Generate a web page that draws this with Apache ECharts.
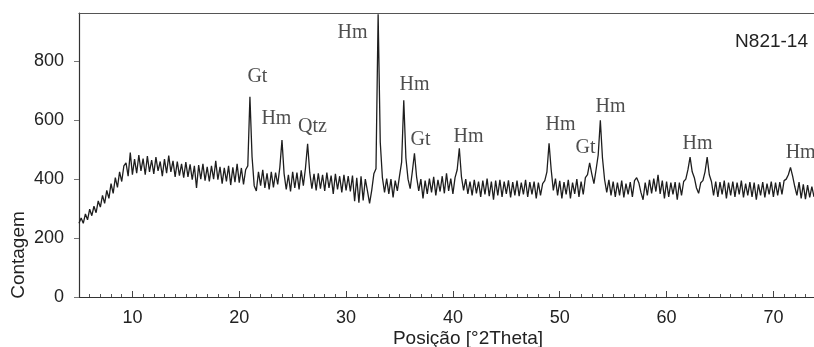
<!DOCTYPE html>
<html>
<head>
<meta charset="utf-8">
<script src="https://cdn.jsdelivr.net/npm/echarts@6/dist/echarts.min.js"></script>
<style>
html,body{margin:0;padding:0;background:#fff;}
#chart{width:814px;height:347px;}
</style>
</head>
<body>
<div id="chart"></div>
<script>
const scanStart = 5.0;
const scanStep = 0.2;
const counts = [
  250, 268, 250, 282, 262, 298, 276, 308, 286, 326,   // 5.0-6.8
  305, 345, 318, 362, 335, 385, 352, 405, 372, 425,   // 7.0-8.8
  392, 445, 455, 410, 490, 415, 468, 420, 482, 428,   // 9.0-10.8
  470, 415, 478, 425, 465, 418, 475, 428, 460, 410,   // 11.0-12.8
  468, 420, 480, 425, 462, 408, 460, 412, 452, 405,   // 13.0-14.8
  458, 408, 450, 398, 445, 370, 448, 400, 452, 395,   // 15.0-16.8
  442, 392, 445, 400, 462, 398, 442, 385, 438, 392,   // 17.0-18.8
  445, 380, 440, 390, 452, 388, 438, 382, 432, 445,   // 19.0-20.8
  680, 475, 378, 360, 425, 378, 432, 370, 420, 365,   // 21.0-22.8
  425, 372, 422, 382, 440, 533, 418, 365, 415, 358,   // 23.0-24.8
  425, 370, 422, 365, 430, 378, 438, 520, 422, 368,   // 25.0-26.8
  418, 362, 420, 368, 415, 360, 422, 370, 412, 350,   // 27.0-28.8
  418, 365, 410, 355, 415, 362, 410, 358, 412, 325,   // 29.0-30.8
  405, 320, 410, 328, 400, 360, 318, 362, 418, 435,   // 31.0-32.8
  960, 525, 405, 355, 402, 350, 400, 338, 395, 360,   // 33.0-34.8
  410, 458, 668, 472, 400, 368, 425, 488, 408, 360,   // 35.0-36.8
  400, 335, 395, 350, 402, 355, 408, 345, 398, 358,   // 37.0-38.8
  410, 352, 420, 360, 402, 350, 405, 432, 505, 408,   // 39.0-40.8
  362, 400, 350, 392, 345, 398, 352, 392, 340, 395,   // 41.0-42.8
  348, 402, 342, 392, 330, 395, 345, 398, 340, 392,   // 43.0-44.8
  350, 396, 338, 390, 345, 395, 342, 388, 348, 398,   // 45.0-46.8
  340, 390, 348, 392, 335, 388, 345, 385, 395, 425,   // 47.0-48.8
  522, 432, 362, 402, 345, 394, 335, 390, 348, 398,   // 49.0-50.8
  335, 388, 350, 400, 340, 392, 348, 405, 415, 455,   // 51.0-52.8
  418, 385, 432, 482, 600, 472, 398, 355, 398, 345,   // 53.0-54.8
  392, 340, 388, 345, 395, 338, 385, 348, 390, 340,   // 55.0-56.8
  395, 405, 388, 355, 330, 388, 345, 398, 352, 402,   // 57.0-58.8
  358, 415, 350, 395, 335, 392, 340, 388, 348, 390,   // 59.0-60.8
  330, 388, 345, 392, 400, 432, 475, 425, 405, 370,   // 61.0-62.8
  352, 388, 395, 425, 475, 415, 392, 345, 392, 340,   // 63.0-64.8
  390, 348, 395, 335, 388, 345, 392, 340, 388, 348,   // 65.0-66.8
  395, 338, 385, 345, 390, 340, 388, 330, 382, 345,   // 67.0-68.8
  390, 338, 385, 348, 392, 340, 388, 345, 390, 348,   // 69.0-70.8
  395, 400, 415, 440, 410, 375, 345, 390, 335, 382,   // 71.0-72.8
  332, 380, 338, 375, 340                             // 73.0-73.8
];

// Phase annotations (text and anchor in data units)
const peakLabels      = ['Gt', 'Hm', 'Qtz', 'Hm', 'Hm', 'Gt', 'Hm', 'Hm', 'Gt', 'Hm', 'Hm', 'Hm'];
const peakLabelAngles = [21.7, 23.48, 26.85, 30.6, 36.4, 36.97, 41.46, 50.07, 52.42, 54.76, 62.9, 72.55];
const peakLabelCounts = [747, 604, 577, 896, 720, 533, 543, 584, 506, 645, 519, 489];

const xTickValues = [10, 20, 30, 40, 50, 60, 70];
const yTickValues = [0, 200, 400, 600, 800];
const sampleName = 'N821-14';
const xTitle = 'Posição [°2Theta]';
const yTitle = 'Contagem';

const xMin = 5, xMax = 73.8, yMax = 964;

const lineData = counts.map((c, i) => [+(scanStart + i * scanStep).toFixed(1), c]);
const labelData = peakLabels.map((t, i) => [peakLabelAngles[i], peakLabelCounts[i], t]);
const minorTicks = [];
for (let d = 6; d <= 73; d++) if (d % 10 !== 0) minorTicks.push(d);

const sans = 'Liberation Sans, Arial, sans-serif';
const serif = 'Liberation Serif, Times New Roman, serif';
const axisColor = '#333';

const chart = echarts.init(document.getElementById('chart'), null, {renderer: 'canvas'});
chart.setOption({
  animation: false,
  backgroundColor: '#fff',
  grid: {left: 79, right: 0, top: 13, bottom: 50},
  xAxis: [
    {
      type: 'value', min: xMin, max: xMax, position: 'bottom',
      axisLine: {show: true, lineStyle: {color: axisColor, width: 1.2}},
      axisTick: {show: true, inside: true, length: 3, customValues: minorTicks, lineStyle: {color: '#555'}},
      axisLabel: {show: true, customValues: xTickValues, margin: 12, fontSize: 18, fontFamily: sans, color: '#222'},
      splitLine: {show: false}
    },
    {
      type: 'value', min: xMin, max: xMax, position: 'bottom',
      axisLine: {show: false},
      axisTick: {show: true, inside: true, length: 6, customValues: xTickValues, lineStyle: {color: '#444'}},
      axisLabel: {show: false},
      splitLine: {show: false}
    },
    {
      type: 'value', min: xMin, max: xMax, position: 'top',
      axisLine: {show: true, lineStyle: {color: '#555', width: 1.2}},
      axisTick: {show: false}, axisLabel: {show: false}, splitLine: {show: false}
    }
  ],
  yAxis: {
    type: 'value', min: 0, max: yMax,
    axisLine: {show: true, lineStyle: {color: axisColor, width: 1.2}},
    axisTick: {show: true, inside: false, length: 5, customValues: yTickValues, lineStyle: {color: '#777'}},
    axisLabel: {show: true, customValues: yTickValues, margin: 15, fontSize: 18, fontFamily: sans, color: '#222', padding: [0, 0, 8, 0]},
    splitLine: {show: false}
  },
  title: {
    text: sampleName, right: 1, top: 27,
    textStyle: {fontSize: 19, fontWeight: 'normal', fontFamily: sans, color: '#222'}
  },
  graphic: [
    {type: 'text', x: 468, y: 339, style: {text: xTitle, align: 'center', verticalAlign: 'middle', font: '19px ' + sans, fill: '#222'}},
    {type: 'text', x: 19, y: 255, rotation: Math.PI / 2, style: {text: yTitle, align: 'center', verticalAlign: 'middle', font: '19px ' + sans, fill: '#222'}}
  ],
  series: [
    {
      type: 'line', data: lineData, xAxisIndex: 0, showSymbol: false, symbol: 'none',
      sampling: null, lineStyle: {color: '#1e1e1e', width: 1.3}, z: 3
    },
    {
      type: 'scatter', data: labelData, xAxisIndex: 0, symbolSize: 0.01, silent: true,
      label: {show: true, position: 'inside', formatter: p => p.value[2], fontFamily: serif, fontSize: 20, color: '#222'},
      z: 4
    }
  ]
});
</script>
</body>
</html>
